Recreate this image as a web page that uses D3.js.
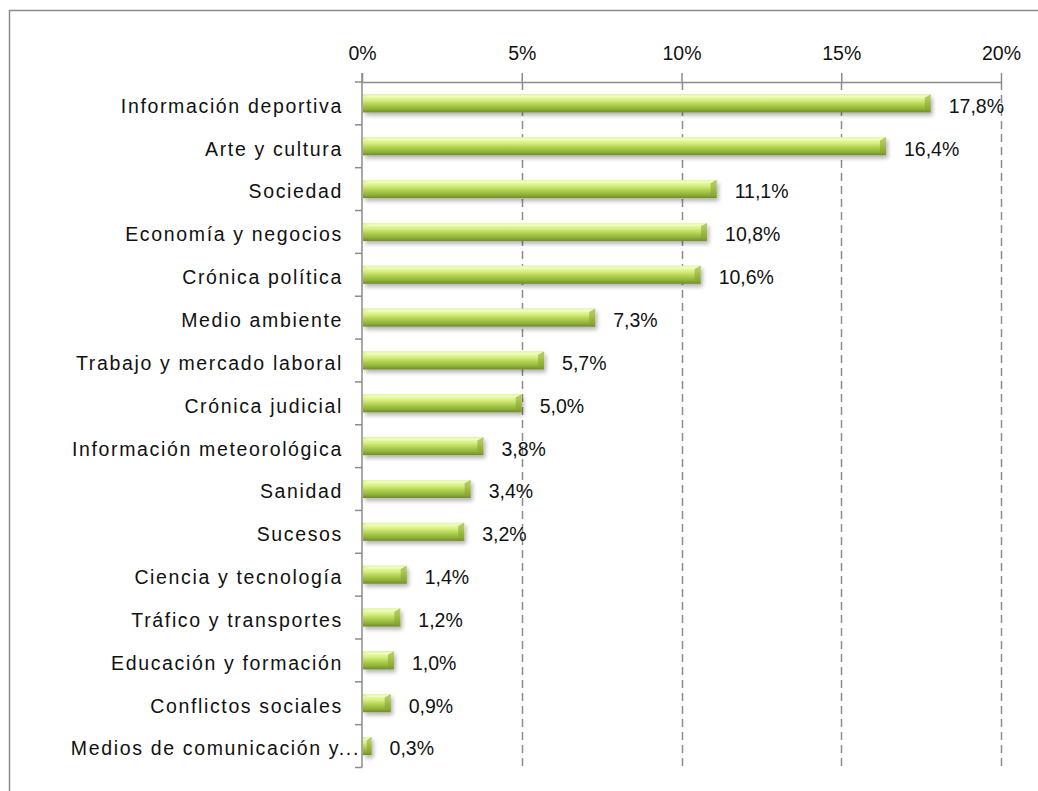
<!DOCTYPE html>
<html><head><meta charset="utf-8">
<script src="https://cdn.jsdelivr.net/npm/d3@7/dist/d3.min.js"></script>
<style>
html,body{margin:0;padding:0;background:#fff;}
svg{display:block;}
</style></head>
<body>
<svg id="c" width="1038" height="791"></svg>
<script>
const categories = ["Información deportiva","Arte y cultura","Sociedad","Economía y negocios","Crónica política","Medio ambiente","Trabajo y mercado laboral","Crónica judicial","Información meteorológica","Sanidad","Sucesos","Ciencia y tecnología","Tráfico y transportes","Educación y formación","Conflictos sociales","Medios de comunicación y..."];
const values = [17.8,16.4,11.1,10.8,10.6,7.3,5.7,5.0,3.8,3.4,3.2,1.4,1.2,1.0,0.9,0.3];
const valueLabels = ["17,8%","16,4%","11,1%","10,8%","10,6%","7,3%","5,7%","5,0%","3,8%","3,4%","3,2%","1,4%","1,2%","1,0%","0,9%","0,3%"];
const tickValues = [0,5,10,15,20];
const tickLabels = ["0%","5%","10%","15%","20%"];

const svg = d3.select("#c");
const pLeft = 362, pRight = 1001, pTop = 82, pBottom = 767.5;

// frame
svg.append("path").attr("d","M9.5,800 V10.5 H1100").attr("fill","none").attr("stroke","#8c8c8c").attr("stroke-width",1.5);

const x = d3.scaleLinear().domain([0,20]).range([pLeft,pRight]);
const yb = d3.scaleBand().domain(categories).range([pTop,pBottom]);

const defs = svg.append("defs");
const g = defs.append("linearGradient").attr("id","bar").attr("x1",0).attr("y1",0).attr("x2",0).attr("y2",1);
[[0,"#c4e068"],[0.12,"#eafba8"],[0.32,"#d6ef82"],[0.58,"#afcf4e"],[0.82,"#8fb03a"],[1,"#6e8a2a"]].forEach(s=>g.append("stop").attr("offset",s[0]).attr("stop-color",s[1]));
const f = defs.append("filter").attr("id","sh").attr("x","-10%").attr("y","-50%").attr("width","130%").attr("height","220%");
f.append("feGaussianBlur").attr("in","SourceAlpha").attr("stdDeviation",2).attr("result","b");
f.append("feOffset").attr("in","b").attr("dx",2).attr("dy",3).attr("result","o");
f.append("feComponentTransfer").attr("in","o").attr("result","o2").append("feFuncA").attr("type","linear").attr("slope",0.3);
const m = f.append("feMerge"); m.append("feMergeNode").attr("in","o2"); m.append("feMergeNode").attr("in","SourceGraphic");

// gridlines
svg.append("g").selectAll("line").data(tickValues.slice(1)).join("line")
  .attr("x1",d=>Math.round(x(d))+0.5).attr("x2",d=>Math.round(x(d))+0.5)
  .attr("y1",pTop).attr("y2",pBottom)
  .attr("stroke","#8c8c8c").attr("stroke-width",1.5).attr("stroke-dasharray","8,5");

// top axis
const xAxis = d3.axisTop(x).tickValues(tickValues).tickFormat((d,i)=>tickLabels[i]).tickSize(9).tickSizeOuter(0).tickPadding(13);
const ax = svg.append("g").attr("transform",`translate(0,${pTop})`).call(xAxis);
ax.select(".domain").attr("stroke","#8c8c8c").attr("stroke-width",1.5);
ax.selectAll(".tick line").attr("stroke","#8c8c8c").attr("stroke-width",1.5);
ax.selectAll(".tick text").attr("font-family","Liberation Sans, Arial, sans-serif").attr("font-size",19.5).attr("fill","#111");

// left axis
svg.append("line").attr("x1",pLeft).attr("x2",pLeft).attr("y1",pTop-9).attr("y2",pBottom).attr("stroke","#8c8c8c").attr("stroke-width",1.5);
const bounds = categories.map(c=>yb(c)).concat([pBottom]);
svg.append("g").selectAll("line").data(bounds).join("line")
  .attr("x1",pLeft-7).attr("x2",pLeft).attr("y1",d=>d).attr("y2",d=>d)
  .attr("stroke","#8c8c8c").attr("stroke-width",1.5);

// category labels
const catFont = "Liberation Sans, Arial, sans-serif", catSize = 19.5;
const labels = svg.append("g").selectAll("text").data(categories).join("text")
  .attr("x",c=>c.endsWith("...")?360:343).attr("y",c=>yb(c)+yb.bandwidth()/2).attr("dy","0.48em")
  .attr("text-anchor","end").attr("font-family",catFont).attr("font-size",catSize)
  .attr("fill","#111").text(c=>c);
// widen spacing to match the reference's airy label font
const refNode = labels.filter(c=>c==="Información meteorológica").node();
const natural = refNode.getComputedTextLength();
const ls = Math.max(0,(271 - natural)/25);
labels.attr("letter-spacing",ls.toFixed(2)+"px");

// bars
const bars = svg.append("g").attr("filter","url(#sh)");
const bh = 18;
bars.selectAll("rect").data(values).join("rect")
  .attr("x",pLeft+1).attr("y",(d,i)=>yb(categories[i])+yb.bandwidth()/2-bh/2)
  .attr("width",d=>x(d)-pLeft-1).attr("height",bh).attr("fill","url(#bar)");
// bevel at ends
svg.append("g").selectAll("path").data(values).join("path")
  .attr("d",(d,i)=>{const yc=yb(categories[i])+yb.bandwidth()/2-bh/2; const xe=x(d); const w=Math.min(6,(xe-pLeft)/2);
    return `M${xe-w},${yc+3} L${xe},${yc} L${xe},${yc+bh} L${xe-w},${yc+bh-3} Z`;})
  .attr("fill","#86a332").attr("opacity",0.55);
svg.append("g").selectAll("path").data(values).join("path")
  .attr("d",(d,i)=>{const yc=yb(categories[i])+yb.bandwidth()/2-bh/2; const xs=pLeft+1; const xe=x(d); const w=Math.min(6,(xe-pLeft)/2);
    return `M${xs},${yc} L${xe},${yc} L${xe-w},${yc+3} L${xs+w},${yc+3} Z`;})
  .attr("fill","#f4fdc6").attr("opacity",0.7);

// value labels
svg.append("g").selectAll("text").data(values).join("text")
  .attr("x",d=>x(d)+18).attr("y",(d,i)=>yb(categories[i])+yb.bandwidth()/2).attr("dy","0.48em")
  .attr("font-family","Liberation Sans, Arial, sans-serif").attr("font-size",19.5).attr("fill","#111")
  .text((d,i)=>valueLabels[i]);
</script>
</body></html>
